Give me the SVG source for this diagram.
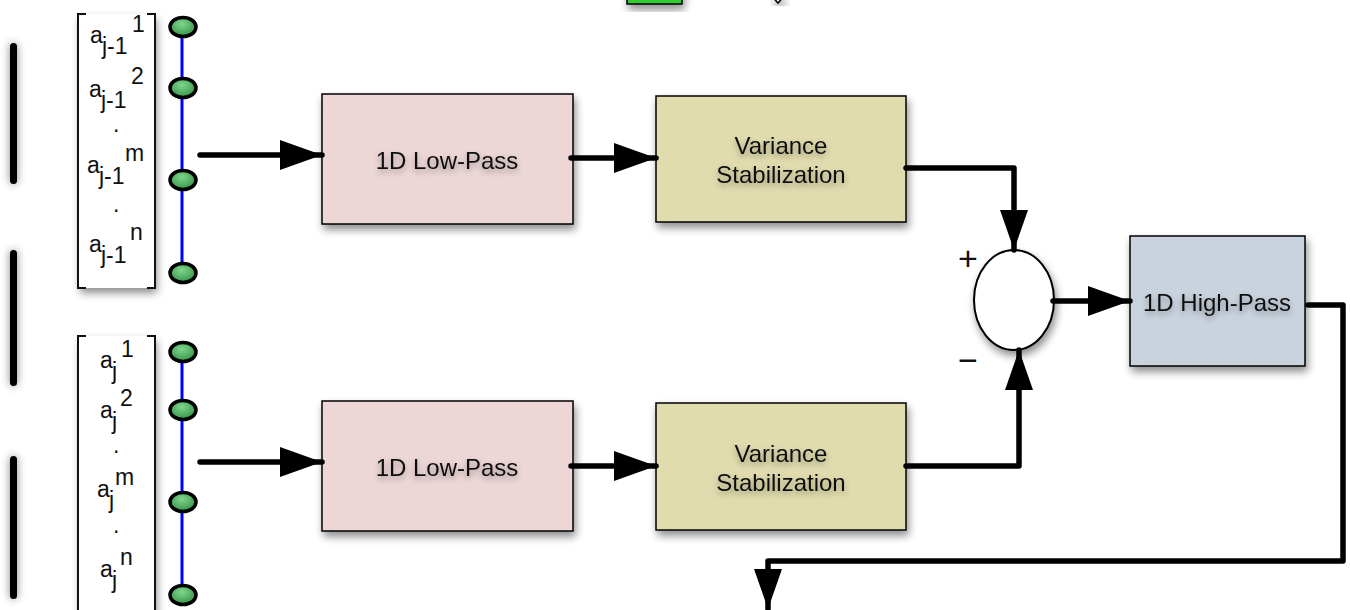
<svg xmlns="http://www.w3.org/2000/svg" width="1350" height="610" viewBox="0 0 1350 610">
<defs>
<filter id="sh" x="-20%" y="-20%" width="150%" height="150%">
<feGaussianBlur in="SourceAlpha" stdDeviation="4"/>
<feOffset dx="2" dy="5" result="b"/>
<feComponentTransfer><feFuncA type="linear" slope="0.45"/></feComponentTransfer>
<feMerge><feMergeNode/><feMergeNode in="SourceGraphic"/></feMerge>
</filter>
<filter id="shu" filterUnits="userSpaceOnUse" x="0" y="20" width="40" height="600">
<feGaussianBlur in="SourceAlpha" stdDeviation="4"/>
<feOffset dx="0" dy="0"/>
<feComponentTransfer><feFuncA type="linear" slope="0.5"/></feComponentTransfer>
<feMerge><feMergeNode/><feMergeNode in="SourceGraphic"/></feMerge>
</filter>
<filter id="tsh" x="-20%" y="-50%" width="140%" height="200%">
<feGaussianBlur in="SourceAlpha" stdDeviation="3"/>
<feOffset dx="0" dy="3"/>
<feComponentTransfer><feFuncA type="linear" slope="0.35"/></feComponentTransfer>
<feMerge><feMergeNode/><feMergeNode in="SourceGraphic"/></feMerge>
</filter>
<radialGradient id="gn" cx="0.45" cy="0.35" r="0.7">
<stop offset="0" stop-color="#7fd58c"/>
<stop offset="1" stop-color="#2f8f43"/>
</radialGradient>
<marker id="ah" viewBox="0 0 42 30" refX="42" refY="15" markerWidth="42" markerHeight="30" markerUnits="userSpaceOnUse" orient="auto">
<path d="M0,0 L42,15 L0,30 Z" fill="#000"/>
</marker>
<marker id="ahs" viewBox="0 0 40 28" refX="40" refY="14" markerWidth="40" markerHeight="28" markerUnits="userSpaceOnUse" orient="auto">
<path d="M0,0 L40,14 L0,28 Z" fill="#000"/>
</marker>
</defs>
<style>
.box{stroke:#000;stroke-width:1.5}
.lbl{font-family:"Liberation Sans",Arial,sans-serif;font-size:24px;fill:#111;text-anchor:middle}
.m{font-family:"Liberation Sans",Arial,sans-serif;font-size:23px;fill:#111}
.c{fill:none;stroke:#000;stroke-width:5.5;stroke-linejoin:round}
.node{fill:url(#gn);stroke:#000;stroke-width:3.5}
.br{fill:none;stroke:#111;stroke-width:2}
.sg{font-family:"Liberation Sans",Arial,sans-serif;font-size:34px;fill:#111;text-anchor:middle}
</style>
<rect width="1350" height="610" fill="#fff"/>

<g id="top-fragments">
<rect x="627" y="-20" width="55" height="24" fill="#33cc33" stroke="#000" stroke-width="1.5" filter="url(#sh)"/>
<path d="M771,-5 L778,3 L785,-5" fill="#fff" stroke="#000" stroke-width="1.5" filter="url(#sh)"/>
</g>

<g id="bars" filter="url(#shu)">
<rect x="10" y="43" width="7" height="141" rx="3.5" fill="#000"/>
<rect x="10" y="250" width="7" height="136" rx="3.5" fill="#000"/>
<rect x="10" y="456" width="7" height="143" rx="3.5" fill="#000"/>
</g>

<g id="matrix-top">
<rect x="78" y="14" width="77" height="274" fill="#fff" filter="url(#sh)"/>
<path class="br" d="M86,14 H78 V288 H86 M147,14 H155 V288 H147"/>
<text class="m" x="90" y="43">a</text><text class="m" x="102" y="54">j-1</text><text class="m" x="132" y="32">1</text>
<text class="m" x="89" y="97">a</text><text class="m" x="101" y="108">j-1</text><text class="m" x="131" y="84">2</text>
<text class="m" x="113" y="132">.</text>
<text class="m" x="87" y="173">a</text><text class="m" x="99" y="184">j-1</text><text class="m" x="125" y="161">m</text>
<text class="m" x="113" y="212">.</text>
<text class="m" x="89" y="252">a</text><text class="m" x="101" y="263">j-1</text><text class="m" x="130" y="240">n</text>
</g>

<g id="matrix-bottom">
<rect x="78" y="336" width="77" height="290" fill="#fff" filter="url(#sh)"/>
<path class="br" d="M86,336 H78 V612 M147,336 H155 V612"/>
<text class="m" x="100" y="368">a</text><text class="m" x="112" y="379">j</text><text class="m" x="121" y="357">1</text>
<text class="m" x="100" y="418">a</text><text class="m" x="112" y="429">j</text><text class="m" x="120" y="406">2</text>
<text class="m" x="113" y="453">.</text>
<text class="m" x="97" y="497">a</text><text class="m" x="109" y="508">j</text><text class="m" x="115" y="485">m</text>
<text class="m" x="113" y="533">.</text>
<text class="m" x="100" y="577">a</text><text class="m" x="112" y="588">j</text><text class="m" x="120" y="565">n</text>
</g>

<g id="nodes-top">
<line x1="182" y1="27" x2="182" y2="273" stroke="#0000ff" stroke-width="3"/>
<ellipse class="node" cx="183" cy="27" rx="13" ry="9.5"/>
<ellipse class="node" cx="183" cy="88" rx="13" ry="9.5"/>
<ellipse class="node" cx="183" cy="180" rx="13" ry="9.5"/>
<ellipse class="node" cx="183" cy="273" rx="13" ry="9.5"/>
</g>
<g id="nodes-bottom">
<line x1="182" y1="352" x2="182" y2="595" stroke="#0000ff" stroke-width="3"/>
<ellipse class="node" cx="183" cy="352" rx="13" ry="9.5"/>
<ellipse class="node" cx="183" cy="410" rx="13" ry="9.5"/>
<ellipse class="node" cx="183" cy="502" rx="13" ry="9.5"/>
<ellipse class="node" cx="183" cy="595" rx="13" ry="9.5"/>
</g>

<g id="lowpass-top">
<rect class="box" x="322" y="94" width="251" height="130" fill="#ecd6d6" filter="url(#sh)"/>
<text class="lbl" x="447" y="169" filter="url(#tsh)">1D Low-Pass</text>
</g>
<g id="vs-top">
<rect class="box" x="656" y="96" width="250" height="126" fill="#e0dcae" filter="url(#sh)"/>
<text class="lbl" x="781" y="154" filter="url(#tsh)">Variance</text>
<text class="lbl" x="781" y="183" filter="url(#tsh)">Stabilization</text>
</g>
<g id="lowpass-bottom">
<rect class="box" x="322" y="401" width="251" height="130" fill="#ecd6d6" filter="url(#sh)"/>
<text class="lbl" x="447" y="476" filter="url(#tsh)">1D Low-Pass</text>
</g>
<g id="vs-bottom">
<rect class="box" x="656" y="403" width="250" height="127" fill="#e0dcae" filter="url(#sh)"/>
<text class="lbl" x="781" y="462" filter="url(#tsh)">Variance</text>
<text class="lbl" x="781" y="491" filter="url(#tsh)">Stabilization</text>
</g>
<g id="sum">
<ellipse cx="1014" cy="300" rx="40" ry="50" fill="#fff" stroke="#000" stroke-width="2" filter="url(#sh)"/>
<text class="sg" x="968" y="270">+</text>
<text class="sg" x="968" y="372">−</text>
</g>
<g id="highpass">
<rect class="box" x="1130" y="236" width="175" height="130" fill="#c9d3dd" filter="url(#sh)"/>
<text class="lbl" x="1217" y="311" filter="url(#tsh)">1D High-Pass</text>
</g>

<g id="connectors" stroke-linecap="round">
<path class="c" d="M200,155 H322" marker-end="url(#ah)"/>
<path class="c" d="M200,462 H322" marker-end="url(#ah)"/>
<path class="c" d="M571,158 H656" marker-end="url(#ah)"/>
<path class="c" d="M571,466 H656" marker-end="url(#ah)"/>
<path class="c" d="M906,168 H1014 V250" marker-end="url(#ahs)"/>
<path class="c" d="M906,466 H1019 V350" marker-end="url(#ahs)"/>
<path class="c" d="M1053,301 H1130" marker-end="url(#ah)"/>
<path class="c" d="M1308,305 H1343 V561 H768 V609" marker-end="url(#ahs)"/>
</g>
</svg>
